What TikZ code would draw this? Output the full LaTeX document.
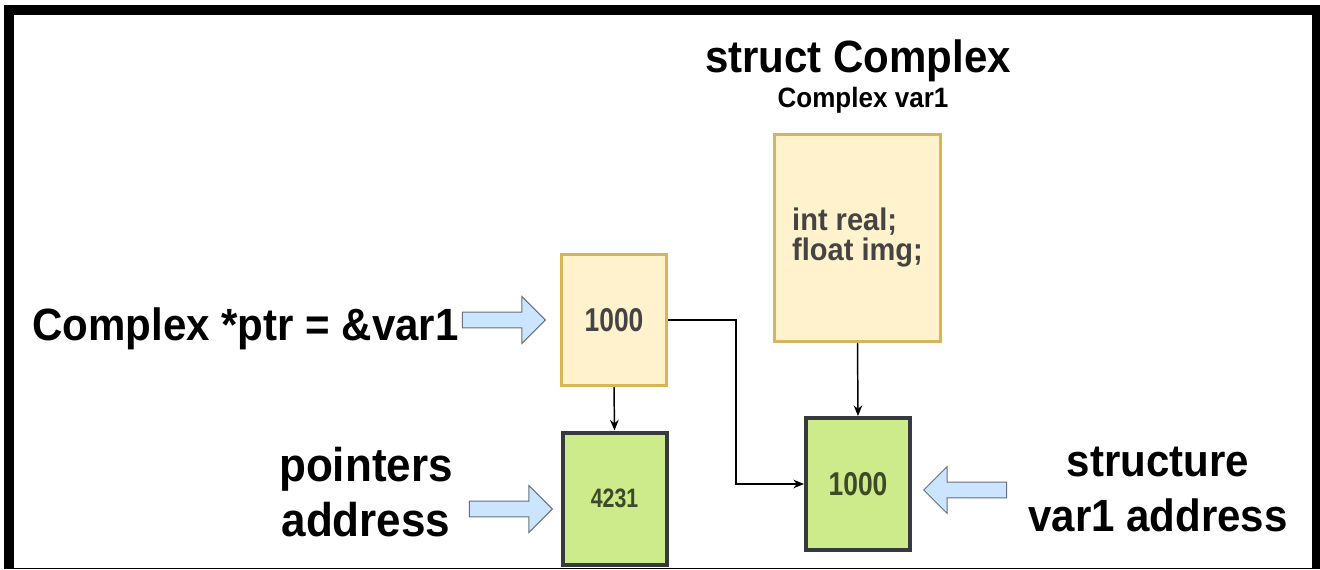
\documentclass[tikz,border=0pt]{standalone}
\usepackage{fontspec}
\setmainfont{Liberation Sans}[FakeStretch=0.93]
\newfontfamily\narrowfont{Liberation Sans}[FakeStretch=0.8]
\usetikzlibrary{shapes.arrows,arrows.meta}
\definecolor{boxyellow}{HTML}{FFF2CC}
\definecolor{lineyellow}{HTML}{D6B656}
\definecolor{boxgreen}{HTML}{CDEB8B}
\definecolor{linegreen}{HTML}{36393D}
\definecolor{arrowblue}{HTML}{CCE5FF}
\definecolor{arrowgray}{HTML}{66707C}
\definecolor{textgray}{HTML}{444444}
\definecolor{textgreen}{HTML}{3C4A2A}
\tikzset{
  yellowbox/.style={draw=lineyellow,fill=boxyellow,line width=2.25pt,text=textgray},
  greenbox/.style={draw=linegreen,fill=boxgreen,line width=3pt,text=textgreen},
  bluearrow/.style={single arrow,draw=arrowgray,fill=arrowblue,line width=0.75pt,
    inner xsep=0pt,inner ysep=5.6pt,minimum height=62.25pt,
    single arrow head extend=11.6pt,anchor=tip},
  label/.style={inner sep=0pt,font=\bfseries\fontsize{33.9}{41.25}\selectfont},
  link/.style={-{Stealth[length=8pt,width=6.5pt]},line width=1.1pt}
}
\begin{document}
\begin{tikzpicture}[x=0.75pt,y=-0.75pt]
\useasboundingbox (0,0) rectangle (1320,570);
\draw[line width=7pt] (9,569) -- (9,10) -- (1317,10) -- (1317,569);
\draw[line width=1.2pt] (5,568.5) -- (1320,568.5);

\node[label,anchor=base] (title) at (858,73) {struct Complex};
\node[inner sep=0pt,anchor=base,font=\bfseries\fontsize{21}{22}\selectfont] (varname) at (863,108) {Complex var1};
\node[label,anchor=base west] (ptrlabel) at (32,340) {Complex *ptr = \&var1};
\node[label,anchor=south,align=center,font=\bfseries\fontsize{35.5}{41.25}\selectfont] (ptraddr) at (366,537) {pointers\\address};
\node[label,anchor=south,align=center] (varaddr) at (1158,532) {structure\\var1 address};

\node[yellowbox,minimum width=78.75pt,minimum height=98.25pt,font=\narrowfont\bfseries\fontsize{24.75}{26}\selectfont] (ptr) at (614,320) {1000};
\node[greenbox,minimum width=78pt,minimum height=99pt,font=\narrowfont\bfseries\fontsize{20}{22}\selectfont] (ptrmem) at (614.5,498.5) {4231};
\node[yellowbox,minimum width=124.5pt,minimum height=155.25pt,align=left,font=\bfseries\fontsize{23.4}{22.5}\selectfont] (var) at (857.5,238) {int real;\\float img;};
\node[greenbox,minimum width=78pt,minimum height=99pt,font=\narrowfont\bfseries\fontsize{24.75}{26}\selectfont] (varmem) at (858,484) {1000};

\foreach \n/\x/\y/\r in {a1/546/320/0,a2/553/509/0,a3/923/490/180}
\node[bluearrow,shape border rotate=\r] (\n) at (\x,\y) {};

\draw[link] (ptr.south) -- (ptrmem.north);
\draw[link] (var.south) -- (varmem.north);
\draw[link] (ptr.east) -- ++(68,0) |- (varmem.west);
\end{tikzpicture}
\end{document}
